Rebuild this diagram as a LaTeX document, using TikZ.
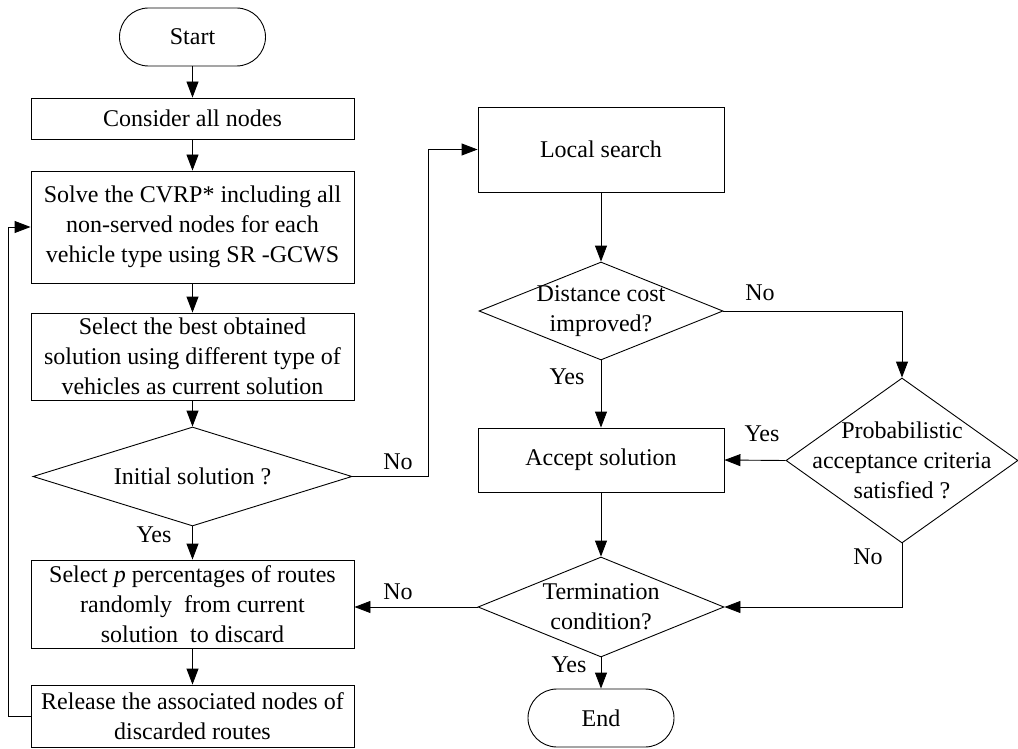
\documentclass[tikz,border=0pt]{standalone}
\usepackage{fontspec}
\setmainfont{Liberation Serif}
\usetikzlibrary{shapes.geometric, arrows.meta}

\begin{document}
\begin{tikzpicture}[->, >={Triangle[length=16pt, width=12pt]}, line width=0.9pt, x=1pt, y=1pt,
    font=\fontsize{24}{30}\selectfont,
    box/.style={draw, rectangle, align=center, minimum width=323pt, inner sep=0pt},
    terminal/.style={draw, rectangle, rounded corners=29pt, minimum width=146pt, minimum height=58pt},
    decision/.style={draw, diamond, inner sep=0pt}]
    \useasboundingbox (0,0) rectangle (1018,-749);
    \node[terminal] (start) at (192.5,-37) {Start};
    \node[box, minimum height=41pt] (consider) at (192.5,-118.5) {Consider all nodes};
    \node[box, minimum height=112pt] (solve) at (192.5,-227) {Solve the CVRP* including all\\non-served nodes for each\\vehicle type using SR -GCWS};
    \node[box, minimum height=87pt] (best) at (192.5,-356.5) {Select the best obtained\\solution using different type of\\vehicles as current solution};
    \node[decision, minimum width=319pt, minimum height=99pt, label={center:Initial solution ?}] (init) at (192.5,-476.5) {};
    \node[box, minimum height=88pt] (discard) at (192.5,-604) {Select \textit{p} percentages of routes\\randomly\ \ from current\\solution\ \ to discard};
    \node[box, minimum height=62pt] (release) at (192.5,-716) {Release the associated nodes of\\discarded routes};
    \node[box, minimum width=246pt, minimum height=85pt] (local) at (601,-149.5) {Local search};
    \node[decision, minimum width=244pt, minimum height=98pt, label={[align=center]center:Distance cost\\improved?}] (dist) at (601,-311) {};
    \node[box, minimum width=246pt, minimum height=64pt] (accept) at (601,-460) {Accept solution};
    \node[decision, minimum width=232pt, minimum height=165pt, label={[align=center]center:Probabilistic\\acceptance criteria\\satisfied ?}] (prob) at (902,-460.5) {};
    \node[decision, minimum width=246pt, minimum height=100pt, label={[align=center]center:Termination\\condition?}] (term) at (601,-607) {};
    \node[terminal] (stop) at (601,-718) {End};
    \node (no1) at (398,-462) {No};
    \node (yes1) at (154,-535) {Yes};
    \node (no2) at (760,-293) {No};
    \node (yes2) at (567,-377) {Yes};
    \node (yes3) at (762,-434) {Yes};
    \node (no3) at (868,-557) {No};
    \node (no4) at (398,-592) {No};
    \node (yes4) at (569,-665) {Yes};
    \draw (start) -- (consider);
    \draw (consider) -- (solve);
    \draw (solve) -- (best);
    \draw (best) -- (init);
    \draw (init) -- (discard);
    \draw (discard) -- (release);
    \draw (release.west) -- ++(-22,0) |- (solve.west);
    \draw (init.east) -- ++(76,0) |- (local.west);
    \draw (local) -- (dist);
    \draw (dist) -- (accept);
    \draw (dist.east) -| (prob.north);
    \draw (prob.west) -- (accept.east);
    \draw (accept) -- (term);
    \draw (prob.south) |- (term.east);
    \draw (term.west) -- (term.west -| discard.east);
    \draw (term) -- (stop);
\end{tikzpicture}
\end{document}
